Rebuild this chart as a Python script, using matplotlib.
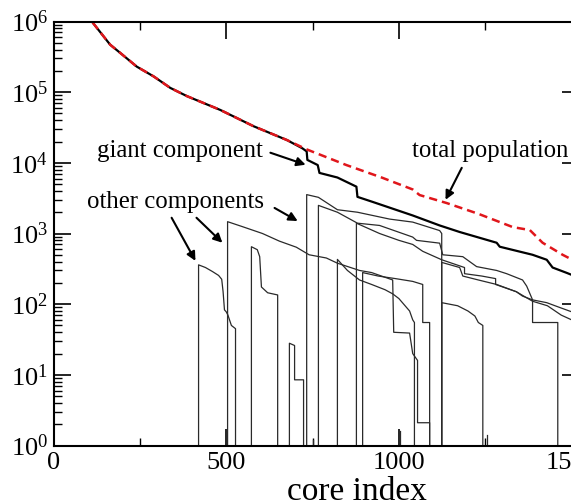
import numpy as np
import matplotlib
matplotlib.use("Agg")
import matplotlib.pyplot as plt
from matplotlib.ticker import MultipleLocator, LogLocator, NullFormatter

plt.rcParams['font.family'] = ['Liberation Serif', 'DejaVu Serif']
plt.rcParams['mathtext.fontset'] = 'custom'
plt.rcParams['mathtext.rm'] = 'Liberation Serif'
plt.rcParams['mathtext.it'] = 'Liberation Serif:italic'

# total population (red dashed)
total_x = [0, 111, 164, 193, 241, 290, 338, 386, 483, 579, 676, 733, 848, 950, 1040, 1060, 1138, 1230, 1330, 1379, 1416, 1474, 1500]
total_y = [1e6, 1e6, 4.7e5, 3.6e5, 2.3e5, 1.67e5, 1.15e5, 8.8e4, 5.6e4, 3.3e4, 2.1e4, 1.55e4, 9.3e3, 6.2e3, 4.2e3, 3.5e3, 2.7e3, 1.9e3, 1.23e3, 1.12e3, 740, 500, 430]

# giant component (thick black)
giant_x = [0, 111, 164, 193, 241, 290, 338, 386, 483, 579, 676, 721, 733, 735, 765, 770, 822, 877, 880, 924, 1040, 1118, 1176, 1283, 1292, 1387, 1428, 1445, 1486, 1500]
giant_y = [1e6, 1e6, 4.7e5, 3.6e5, 2.3e5, 1.67e5, 1.15e5, 8.8e4, 5.6e4, 3.3e4, 2.1e4, 1.6e4, 1.45e4, 1.1e4, 9.3e3, 7.2e3, 6.2e3, 4.6e3, 3.3e3, 2.8e3, 1.8e3, 1.3e3, 1.05e3, 740, 650, 500, 425, 330, 277, 260]

# other components (thin lines); value 1 = bottom of the axis
comp1_x = [420, 420, 440, 460, 478, 487, 491, 495, 500, 505, 515, 527, 527]
comp1_y = [1, 360, 330, 290, 255, 225, 150, 83, 78, 70, 50, 45, 1]

comp2_x = [504, 504, 547, 605, 654, 703, 740, 790, 822, 886, 921, 982, 985, 1031, 1040, 1054, 1054, 1089, 1089]
comp2_y = [1, 1470, 1250, 1000, 780, 640, 500, 450, 380, 300, 280, 220, 40, 39, 20, 16, 2.1, 2.1, 1]

comp3_x = [573, 573, 590, 597, 602, 620, 649, 649]
comp3_y = [1, 650, 590, 470, 175, 145, 135, 1]

comp4_x = [683, 683, 698, 698, 724, 724]
comp4_y = [1, 28, 26, 8.5, 8.5, 1]

comp5_x = [733, 733, 767, 822, 880, 973, 1040, 1118, 1124, 1124]
comp5_y = [1, 3550, 3250, 2170, 2000, 1600, 1450, 1100, 1000, 1]

comp6_x = [767, 767, 822, 880, 944, 1040, 1051, 1118, 1127, 1185, 1225, 1283, 1312, 1358, 1370, 1387, 1428, 1465, 1500]
comp6_y = [1, 2500, 2000, 1400, 1300, 890, 800, 730, 500, 470, 340, 300, 270, 220, 180, 115, 105, 90, 78]

comp7_x = [822, 822, 851, 886, 921, 960, 982, 1000, 1031, 1040, 1045, 1045]
comp7_y = [1, 430, 300, 220, 190, 160, 140, 120, 80, 60, 55, 1]

comp8_x = [895, 895, 940, 990, 1040, 1069, 1069, 1089, 1089]
comp8_y = [1, 280, 250, 230, 210, 190, 55, 55, 1]

comp9_x = [877, 877, 944, 1000, 1040, 1069, 1124, 1190, 1190, 1240, 1280, 1280, 1340, 1387, 1430, 1470, 1500]
comp9_y = [1, 1400, 1000, 800, 700, 560, 425, 330, 270, 250, 230, 190, 150, 110, 95, 70, 60]

comp10_x = [1124, 1124, 1176, 1185, 1230, 1283, 1340, 1358, 1387, 1387, 1460, 1460]
comp10_y = [1, 390, 330, 250, 220, 190, 150, 130, 115, 55, 55, 1]

comp11_x = [1124, 1124, 1170, 1200, 1220, 1230, 1243, 1243]
comp11_y = [1, 105, 95, 80, 68, 55, 50, 1]

# tiny components near the axis
spike_x = [500, 750, 1002, 1254]
spike_y = [1.5, 1.2, 1.6, 1.4]

comps = [(comp1_x, comp1_y), (comp2_x, comp2_y), (comp3_x, comp3_y), (comp4_x, comp4_y),
         (comp5_x, comp5_y), (comp6_x, comp6_y), (comp7_x, comp7_y), (comp8_x, comp8_y),
         (comp9_x, comp9_y), (comp10_x, comp10_y), (comp11_x, comp11_y)]

fig = plt.figure(figsize=(5.71, 5.04), dpi=100)
ax = fig.add_axes([53.5/571, 1-445.5/504, 525/571, 424/504])

for cx, cy in comps:
    ax.plot(cx, cy, color='#2a2a2a', lw=0.9)
for sx, sy in zip(spike_x, spike_y):
    ax.plot([sx, sx], [1, sy], color='#2a2a2a', lw=0.9)

ax.plot(giant_x, giant_y, color='black', lw=1.6)
ax.plot(total_x, total_y, color='#e0161b', lw=1.8, dashes=(3.3, 2.0))

ax.set_yscale('log')
ax.set_xlim(0, 1520)
ax.set_ylim(1, 1e6)

ax.xaxis.set_major_locator(MultipleLocator(500))
ax.xaxis.set_minor_locator(MultipleLocator(250))
ax.yaxis.set_major_locator(LogLocator(base=10, numticks=10))
ax.yaxis.set_minor_locator(LogLocator(base=10, subs=np.arange(2, 10), numticks=20))
ax.yaxis.set_minor_formatter(NullFormatter())

ax.tick_params(which='both', direction='in', top=True, right=True)
ax.tick_params(which='major', length=12, width=1.2)
ax.tick_params(which='minor', length=6, width=1.0)
ax.tick_params(axis='x', labelsize=19, pad=5)
ax.tick_params(axis='y', labelsize=19, pad=4)
for s in ax.spines.values():
    s.set_linewidth(1.5)

fig.text(357/571, 4/504, 'core index', fontsize=24, ha='center', va='baseline')

arrow = dict(arrowstyle='-|>', color='black', lw=1.5, mutation_scale=13, shrinkA=0, shrinkB=0)
ax.text(125, 1.22e4, 'giant component', fontsize=17.8, ha='left', va='baseline')
ax.annotate('', xy=(730, 9.4e3), xytext=(628, 1.39e4), arrowprops=arrow)

ax.text(1037, 1.22e4, 'total population', fontsize=17.8, ha='left', va='baseline', clip_on=False)
ax.annotate('', xy=(1135, 3.0e3), xytext=(1182, 8.5e3), arrowprops=arrow)

ax.text(98, 2.31e3, 'other components', fontsize=17.8, ha='left', va='baseline')
ax.annotate('', xy=(411, 410), xytext=(342, 1.67e3), arrowprops=arrow)
ax.annotate('', xy=(489, 740), xytext=(414, 1.67e3), arrowprops=arrow)
ax.annotate('', xy=(707, 1.5e3), xytext=(640, 2.3e3), arrowprops=arrow)

fig.savefig('out.png', dpi=100)
